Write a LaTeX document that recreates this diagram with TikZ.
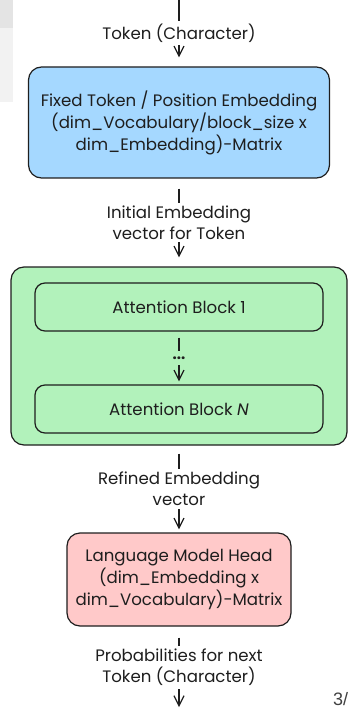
\documentclass[tikz,border=0pt]{standalone}
\usepackage{fontspec}
\setmainfont{Poppins}
\newfontfamily\pagefont{Liberation Sans}
\usetikzlibrary{arrows.meta}
\definecolor{ink}{HTML}{1E1E1E}
\definecolor{bluefill}{HTML}{A5D8FF}
\definecolor{greenfill}{HTML}{B2F2BB}
\definecolor{redfill}{HTML}{FFC9C9}
\definecolor{bandA}{HTML}{E4E4E4}
\definecolor{bandB}{HTML}{F2F2F2}
\begin{document}
\begin{tikzpicture}[x=1pt,y=-1pt,
  box/.style={draw=ink, line width=1.2pt, rounded corners=13pt, inner sep=0pt,
    align=center, text=ink, font=\fontsize{16.6}{22}\selectfont},
  innerbox/.style={box, rounded corners=10pt},
  arr/.style={draw=ink, line width=1.2pt,
    -{Straight Barb[length=10pt,width=10pt,line width=1.2pt]}},
  lbl/.style={fill=white, inner sep=3pt, align=center, text=ink,
    font=\fontsize{16.6}{21}\selectfont}]
\useasboundingbox (0,0) rectangle (348,708);
\clip (0,0) rectangle (348,708);
\fill[bandA] (0,0) rectangle (13,28);
\fill[bandB] (0,28) rectangle (13,102);

\node[box, fill=bluefill, minimum width=301pt, minimum height=111pt] (emb) at (179,122.5)
  {Fixed Token / Position Embedding\\(dim\_Vocabulary/block\_size x\\dim\_Embedding)-Matrix};
\node[box, fill=greenfill, minimum width=336pt, minimum height=178pt] (grp) at (179,356) {};
\node[innerbox, minimum width=288pt, minimum height=48pt] (a1) at (179,307) {Attention Block 1};
\node[innerbox, minimum width=288pt, minimum height=48pt] (aN) at (179,409) {Attention Block \textit{N}};
\node[box, fill=redfill, minimum width=224pt, minimum height=93pt] (head) at (179,579.5)
  {Language Model Head\\(dim\_Embedding x\\dim\_Vocabulary)-Matrix};

\coordinate (in) at (179,0);
\coordinate (out) at (179,708);

\draw[arr, shorten >=9pt] (in) -- node[lbl] {Token (Character)} (emb.north);
\draw[arr, shorten <=10pt, shorten >=9pt] (emb.south) -- node[lbl] {Initial Embedding\\vector for Token} (grp.north);
\draw[arr, shorten <=6pt, shorten >=3pt] (a1.south) -- node[lbl, fill=greenfill, inner sep=0pt, minimum height=14pt, font=\fontsize{15}{15}\selectfont\bfseries] {...} (aN.north);
\draw[arr, shorten <=8pt, shorten >=3pt] (grp.south) -- node[lbl] {Refined Embedding\\vector} (head.north);
\draw[arr, shorten <=11pt, shorten >=1pt] (head.south) -- node[lbl] {Probabilities for next\\Token (Character)} (out);

\node[anchor=base west, inner sep=0pt, text=ink!85, font=\pagefont\fontsize{18}{18}\selectfont] (pg) at (333,705) {3/};
\end{tikzpicture}
\end{document}
